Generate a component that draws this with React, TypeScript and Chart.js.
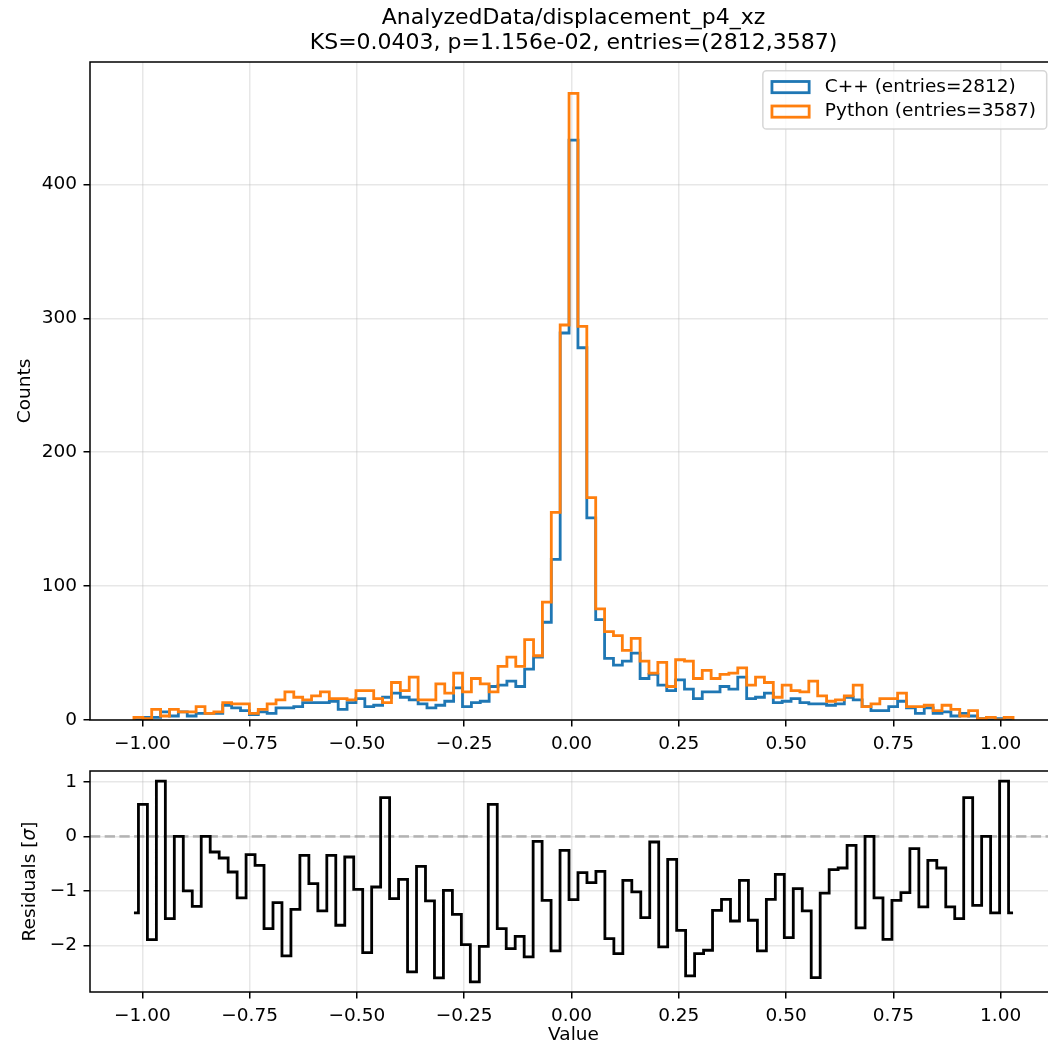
import React, { useEffect, useRef } from "react";
import { Chart, registerables } from "chart.js";

Chart.register(...registerables);

const TITLE_LINES = [
  "AnalyzedData/displacement_p4_xz",
  "KS=0.0403, p=1.156e-02, entries=(2812,3587)",
];
const SERIES_NAMES = ["C++ (entries=2812)", "Python (entries=3587)"];
const X_LABEL = "Value";
const Y_LABEL_TOP = "Counts";
const Y_LABEL_RES = ["Residuals [", "σ", "]"];

// histogram range (99 bins)
const BIN_LO = -1.0195;
const BIN_HI = 1.0288;

const CPP_COUNTS = [
  0, 2, 2, 6, 3, 6, 3, 5, 5, 5,
  11, 9, 7, 4, 6, 5, 9, 9, 10, 13,
  13, 13, 14, 8, 13, 16, 10, 11, 17, 20,
  17, 15, 12, 9, 11, 14, 24, 10, 13, 14,
  25, 26, 29, 25, 38, 47, 73, 120, 289, 433,
  278, 151, 75, 46, 41, 44, 50, 31, 34, 26,
  22, 30, 23, 16, 21, 21, 25, 23, 32, 16,
  17, 20, 13, 14, 16, 13, 12, 12, 11, 12,
  17, 15, 10, 7, 7, 10, 14, 9, 5, 9,
  5, 6, 3, 5, 3, 1, 0, 1, 0,
];

const PY_COUNTS = [
  2, 1, 8, 3, 8, 6, 6, 10, 5, 6,
  13, 12, 12, 5, 8, 12, 15, 21, 17, 15,
  18, 21, 16, 16, 15, 22, 22, 16, 13, 28,
  22, 32, 15, 15, 27, 20, 35, 21, 31, 27,
  21, 40, 47, 40, 60, 48, 88, 155, 295, 468,
  294, 166, 83, 66, 63, 52, 61, 44, 35, 43,
  25, 45, 44, 31, 37, 31, 34, 35, 39, 26,
  32, 28, 17, 26, 22, 21, 29, 18, 14, 15,
  18, 26, 10, 12, 16, 16, 20, 10, 10, 11,
  7, 11, 8, 3, 7, 1, 2, 0, 2,
];

const RESIDUALS = [
  -1.405, 0.586, -1.894, 1.014, -1.509, 0, -1.0, -1.283, 0, -0.287,
  -0.397, -0.654, -1.13, -0.336, -0.531, -1.692, -1.216, -2.193, -1.338, -0.348,
  -0.867, -1.368, -0.348, -1.63, -0.379, -0.971, -2.132, -0.929, 0.709, -1.142,
  -0.788, -2.486, -0.55, -1.185, -2.596, -0.99, -1.43, -1.985, -2.67, -2.016,
  0.586, -1.692, -2.059, -1.833, -2.211, -0.092, -1.173, -2.101, -0.257, -1.161,
  -0.666, -0.849, -0.641, -1.875, -2.15, -0.806, -1.02, -1.49, -0.104, -2.028,
  -0.421, -1.723, -2.56, -2.15, -2.089, -1.356, -1.155, -1.552, -0.806, -1.539,
  -2.101, -1.155, -0.696, -1.857, -0.959, -1.368, -2.59, -1.04, -0.611, -0.58,
  -0.165, -1.68, 0, -1.13, -1.888, -1.173, -1.032, -0.226, -1.295, -0.44,
  -0.58, -1.295, -1.509, 0.709, -1.264, 0, -1.405, 1.014, -1.405,
];

const X_TICKS = [-1, -0.75, -0.5, -0.25, 0, 0.25, 0.5, 0.75, 1];
const Y_TICKS_TOP = [0, 100, 200, 300, 400];
const Y_TICKS_RES = [-2, -1, 0, 1];

const BLUE = "#1f77b4";
const ORANGE = "#ff7f0e";
const GRID = "rgba(176,176,176,0.3)";
const FONT = "'DejaVu Sans', sans-serif";
const FS = 18.5;
const LW = 2.8;

const N_BINS = CPP_COUNTS.length;
const BIN_W = (BIN_HI - BIN_LO) / N_BINS;
const EDGES = Array.from({ length: N_BINS + 1 }, (_, k) => BIN_LO + k * BIN_W);
// residuals are plotted on evenly spaced positions spanning the histogram range
const RES_X = RESIDUALS.map((_, j) => BIN_LO + (j * (BIN_HI - BIN_LO)) / (RESIDUALS.length - 1));
const X_MIN = BIN_LO - 0.05 * (BIN_HI - BIN_LO);
const X_MAX = BIN_HI + 0.05 * (BIN_HI - BIN_LO);
const Y_MAX_TOP = Math.max(...PY_COUNTS, ...CPP_COUNTS) * 1.05;
const R_MIN = Math.min(...RESIDUALS);
const R_MAX = Math.max(...RESIDUALS);
const R_LO = R_MIN - 0.05 * (R_MAX - R_MIN);
const R_HI = R_MAX + 0.05 * (R_MAX - R_MIN);

const CANVAS_W = 1071;
const TOP_H = 758;
const BOT_H = 286;

// histogram outline: with stepped "before", each point's value is drawn
// horizontally from its own edge to the next edge
function stepPoints(counts: number[]) {
  const pts = [{ x: EDGES[0], y: 0 }];
  counts.forEach((c, i) => pts.push({ x: EDGES[i], y: c }));
  pts.push({ x: EDGES[N_BINS], y: 0 });
  return pts;
}

const minus = (s: string) => s.replace("-", "\u2212");
const fmtX = (v: number) => minus((Math.abs(v) < 1e-9 ? 0 : v).toFixed(2));
const fmtInt = (v: number) => minus(String(Math.round(v)));

const gridOpts = {
  color: GRID,
  lineWidth: 1.5,
  tickColor: "#000",
  tickWidth: 1.5,
  tickLength: 6.5,
  drawTicks: true,
};

function xScale(height: number) {
  return {
    type: "linear" as const,
    min: X_MIN,
    max: X_MAX,
    afterBuildTicks: (s: any) => {
      s.ticks = X_TICKS.map((v) => ({ value: v }));
    },
    afterFit: (s: any) => {
      s.height = height;
      s.paddingLeft = 0;
      s.paddingRight = 0;
      s.paddingTop = 0;
      s.paddingBottom = 0;
    },
    ticks: {
      callback: (v: any) => fmtX(Number(v)),
      font: { family: FONT, size: FS },
      color: "#000",
      padding: 6.5,
      maxRotation: 0,
      autoSkip: false,
    },
    grid: gridOpts,
    border: { display: false },
  };
}

function yScale(min: number, max: number, ticks: number[]) {
  return {
    type: "linear" as const,
    min,
    max,
    afterBuildTicks: (s: any) => {
      s.ticks = ticks.map((v) => ({ value: v }));
    },
    afterFit: (s: any) => {
      s.width = 90;
      s.paddingLeft = 0;
      s.paddingRight = 0;
      s.paddingTop = 0;
      s.paddingBottom = 0;
    },
    ticks: {
      callback: (v: any) => fmtInt(Number(v)),
      font: { family: FONT, size: FS },
      color: "#000",
      padding: 6.5,
      autoSkip: false,
    },
    grid: gridOpts,
    border: { display: false },
  };
}

function drawSpines(chart: any) {
  const { ctx, chartArea: ca } = chart;
  ctx.save();
  ctx.strokeStyle = "#000";
  ctx.lineWidth = 1.5;
  ctx.strokeRect(ca.left, ca.top, ca.right - ca.left, ca.bottom - ca.top);
  ctx.restore();
}

function roundRect(ctx: CanvasRenderingContext2D, x: number, y: number, w: number, h: number, r: number) {
  ctx.beginPath();
  ctx.moveTo(x + r, y);
  ctx.lineTo(x + w - r, y);
  ctx.arcTo(x + w, y, x + w, y + r, r);
  ctx.lineTo(x + w, y + h - r);
  ctx.arcTo(x + w, y + h, x + w - r, y + h, r);
  ctx.lineTo(x + r, y + h);
  ctx.arcTo(x, y + h, x, y + h - r, r);
  ctx.lineTo(x, y + r);
  ctx.arcTo(x, y, x + r, y, r);
  ctx.closePath();
}

const topDecor = {
  id: "topDecor",
  afterDatasetsDraw(chart: any) {
    drawSpines(chart);
  },
  afterDraw(chart: any) {
    const { ctx, chartArea: ca } = chart;
    ctx.save();
    ctx.fillStyle = "#000";
    ctx.textAlign = "center";
    ctx.textBaseline = "middle";
    ctx.font = `22px ${FONT}`;
    const cx = (ca.left + ca.right) / 2;
    ctx.fillText(TITLE_LINES[0], cx, 18.5);
    ctx.fillText(TITLE_LINES[1], cx, 43.5);

    ctx.font = `${FS}px ${FONT}`;
    ctx.save();
    ctx.translate(25, (ca.top + ca.bottom) / 2);
    ctx.rotate(-Math.PI / 2);
    ctx.fillText(Y_LABEL_TOP, 0, 0);
    ctx.restore();

    // legend
    const entries = [
      { label: SERIES_NAMES[0], color: BLUE },
      { label: SERIES_NAMES[1], color: ORANGE },
    ];
    const tw = Math.max(...entries.map((e) => ctx.measureText(e.label).width));
    const boxRight = ca.right - 10.3;
    const boxTop = ca.top + 8.8;
    const boxH = 58.3;
    const textX = boxRight - 10.7 - tw;
    const handleR = textX - 15.7;
    const handleL = handleR - 37.2;
    const boxLeft = handleL - 9.1;
    roundRect(ctx, boxLeft, boxTop, boxRight - boxLeft, boxH, 3.7);
    ctx.fillStyle = "rgba(255,255,255,0.8)";
    ctx.fill();
    ctx.strokeStyle = "rgba(204,204,204,0.8)";
    ctx.lineWidth = 1.5;
    ctx.stroke();
    entries.forEach((e, i) => {
      const cy = boxTop + 16.3 + i * 24.5;
      ctx.strokeStyle = e.color;
      ctx.lineWidth = LW;
      ctx.lineJoin = "miter";
      ctx.strokeRect(handleL, cy - 5.6, 37.2, 11.2);
      ctx.fillStyle = "#000";
      ctx.textAlign = "left";
      ctx.fillText(e.label, textX, cy);
    });
    ctx.restore();
  },
};

const botDecor = {
  id: "botDecor",
  beforeDatasetsDraw(chart: any) {
    const { ctx, chartArea: ca } = chart;
    const y0 = chart.scales.y.getPixelForValue(0);
    ctx.save();
    ctx.strokeStyle = "rgba(128,128,128,0.5)";
    ctx.lineWidth = LW;
    ctx.setLineDash([10.3, 4.4]);
    ctx.beginPath();
    ctx.moveTo(ca.left, y0);
    ctx.lineTo(ca.right, y0);
    ctx.stroke();
    ctx.restore();
  },
  afterDatasetsDraw(chart: any) {
    drawSpines(chart);
  },
  afterDraw(chart: any) {
    const { ctx, chartArea: ca } = chart;
    ctx.save();
    ctx.fillStyle = "#000";
    ctx.textBaseline = "middle";
    ctx.textAlign = "center";
    ctx.font = `${FS}px ${FONT}`;
    ctx.fillText(X_LABEL, (ca.left + ca.right) / 2, 1035 - TOP_H);

    // rotated y label with italic sigma
    const [a, s, b] = Y_LABEL_RES;
    ctx.font = `${FS}px ${FONT}`;
    const wa = ctx.measureText(a).width;
    const wb = ctx.measureText(b).width;
    ctx.font = `italic ${FS}px ${FONT}`;
    const ws = ctx.measureText(s).width;
    const total = wa + ws + wb;
    ctx.translate(30, (ca.top + ca.bottom) / 2);
    ctx.rotate(-Math.PI / 2);
    ctx.textAlign = "left";
    let x = -total / 2;
    ctx.font = `${FS}px ${FONT}`;
    ctx.fillText(a, x, 0);
    x += wa;
    ctx.font = `italic ${FS}px ${FONT}`;
    ctx.fillText(s, x, 0);
    x += ws;
    ctx.font = `${FS}px ${FONT}`;
    ctx.fillText(b, x, 0);
    ctx.restore();
  },
};

export default function App() {
  const topRef = useRef<HTMLCanvasElement>(null);
  const botRef = useRef<HTMLCanvasElement>(null);

  useEffect(() => {
    const common = {
      responsive: false,
      animation: false as const,
      devicePixelRatio: 1,
      events: [] as any[],
    };
    const top = new Chart(topRef.current as HTMLCanvasElement, {
      type: "line",
      data: {
        datasets: [
          {
            label: SERIES_NAMES[1],
            data: stepPoints(PY_COUNTS),
            borderColor: ORANGE,
            backgroundColor: ORANGE,
            borderWidth: LW,
            stepped: "before",
            pointRadius: 0,
            fill: false,
            order: 0,
            borderJoinStyle: "miter",
          },
          {
            label: SERIES_NAMES[0],
            data: stepPoints(CPP_COUNTS),
            borderColor: BLUE,
            backgroundColor: BLUE,
            borderWidth: LW,
            stepped: "before",
            pointRadius: 0,
            fill: false,
            order: 1,
            borderJoinStyle: "miter",
          },
        ],
      },
      options: {
        ...common,
        layout: { padding: { top: 62, left: 0, right: 14, bottom: 0 } },
        plugins: {
          legend: { display: false },
          title: { display: false },
          tooltip: { enabled: false },
        },
        scales: {
          x: xScale(TOP_H - 720) as any,
          y: yScale(0, Y_MAX_TOP, Y_TICKS_TOP) as any,
        },
      } as any,
      plugins: [topDecor],
    });

    const bot = new Chart(botRef.current as HTMLCanvasElement, {
      type: "line",
      data: {
        datasets: [
          {
            label: "residuals",
            data: RES_X.map((x, i) => ({ x, y: RESIDUALS[i] })),
            borderColor: "#000",
            backgroundColor: "#000",
            borderWidth: LW,
            stepped: "middle",
            pointRadius: 0,
            fill: false,
            borderJoinStyle: "miter",
          },
        ],
      },
      options: {
        ...common,
        layout: { padding: { top: 771 - TOP_H, left: 0, right: 14, bottom: 0 } },
        plugins: {
          legend: { display: false },
          title: { display: false },
          tooltip: { enabled: false },
        },
        scales: {
          x: xScale(TOP_H + BOT_H - 992) as any,
          y: yScale(R_LO, R_HI, Y_TICKS_RES) as any,
        },
      } as any,
      plugins: [botDecor],
    });

    return () => {
      top.destroy();
      bot.destroy();
    };
  }, []);

  return (
    <div
      style={{
        position: "fixed",
        left: 0,
        top: 0,
        width: 1048,
        height: 1044,
        overflow: "hidden",
        background: "#fff",
      }}
    >
      <canvas
        ref={topRef}
        width={CANVAS_W}
        height={TOP_H}
        style={{ position: "absolute", left: 0, top: 0, width: CANVAS_W, height: TOP_H }}
      />
      <canvas
        ref={botRef}
        width={CANVAS_W}
        height={BOT_H}
        style={{ position: "absolute", left: 0, top: TOP_H, width: CANVAS_W, height: BOT_H }}
      />
    </div>
  );
}
